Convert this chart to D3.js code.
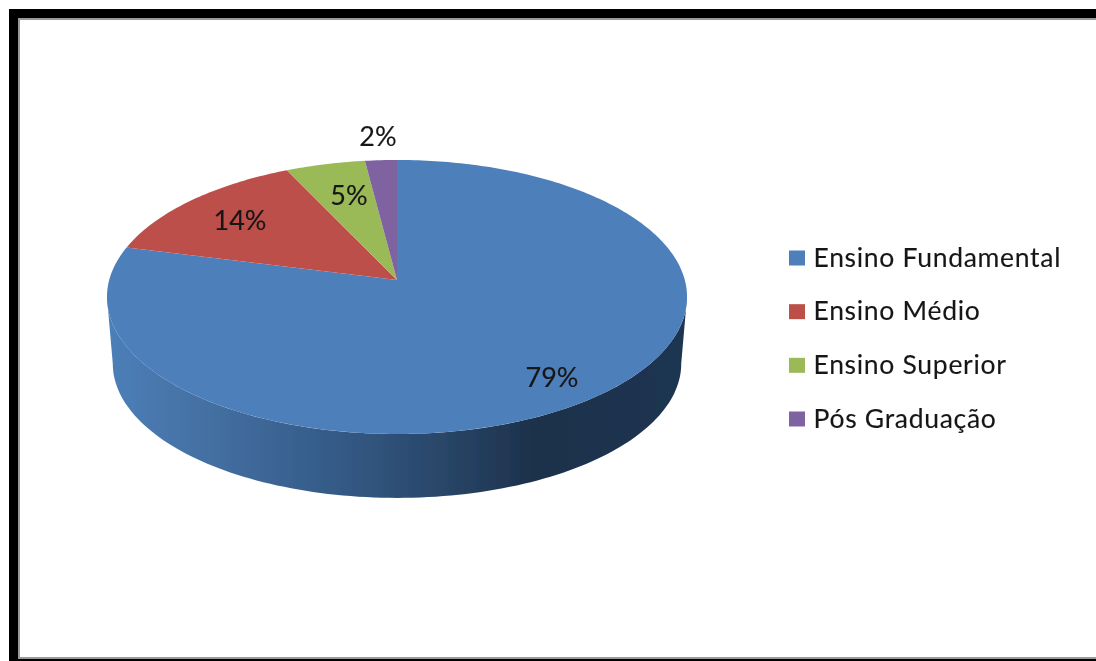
<!DOCTYPE html>
<html><head><meta charset="utf-8">
<style>html,body{margin:0;padding:0;background:#fff;overflow:hidden}svg{display:block}text{font-family:Lato,"Open Sans",sans-serif;fill:#161616;stroke:#161616;stroke-width:0.12}</style>
<script src="https://cdn.jsdelivr.net/npm/d3@7/dist/d3.min.js"></script>
</head><body><svg id="c" width="1096" height="661"></svg>
<script>
const categories = ["Ensino Fundamental","Ensino Médio","Ensino Superior","Pós Graduação"];
const values = [79,14,5,2];
const pctLabels = ["79%","14%","5%","2%"];
const colors = ["#4e7fbb","#bd4f4c","#9aba59","#7f63a1"];

(function(){
const W=1096,H=661;
const svg=d3.select("#c");
const defs=svg.append("defs");
defs.append("filter").attr("id","soft").attr("x","-5%").attr("y","-5%").attr("width","110%").attr("height","110%")
  .append("feGaussianBlur").attr("stdDeviation",0.6);
const grad=defs.append("linearGradient").attr("id","side").attr("gradientUnits","userSpaceOnUse")
  .attr("x1",107).attr("x2",687).attr("y1",0).attr("y2",0);
[[0,"#4d7fb8"],[0.2,"#426d9f"],[0.4,"#345a86"],[0.58,"#294668"],[0.74,"#1c304b"],[1,"#1f3552"]]
  .forEach(([o,c])=>grad.append("stop").attr("offset",o).attr("stop-color",c));

// frame
svg.append("rect").attr("width",W).attr("height",H).attr("fill","#fff");
svg.append("path").attr("fill","#000").attr("d",`M9 9H${W}V18H18V659H${W}V661H9Z`);
svg.append("path").attr("fill","#9a9a9a").attr("d",`M18 18H${W}V20H20V657H${W}V659H18Z`);

// perspective projection of the pie disc
const cx=397, cy=280, ry=134.9, rx=287.8, k=0.124;
const rim=(a,dy=0,s=1)=>{const u=Math.sin(a),v=Math.cos(a),w=1+k*v;
  return [cx+s*rx*u/w, cy+dy-s*ry*v/w];};
const pie=d3.pie().sort(null).value(d=>d);
const arcs=pie(values);
const line=d3.line();
const g=svg.append("g").attr("filter","url(#soft)");

// side wall: front half of the rim, between its two horizontal extremes
const depth=67, bs=0.98;
const aL=Math.PI/2+k, aR=3*Math.PI/2-k;
const samples=d3.range(0,121).map(i=>aL+(aR-aL)*i/120);
const topEdge=samples.map(a=>rim(a));
const botEdge=samples.map(a=>rim(a,depth,bs)).reverse();
g.append("path").attr("d",line(topEdge.concat(botEdge))+"Z").attr("fill","url(#side)");

// top faces
g.selectAll("path.slice").data(arcs).join("path").attr("class","slice")
  .attr("fill",(d,i)=>colors[i])
  .attr("d",d=>{
    const n=Math.max(4,Math.ceil((d.endAngle-d.startAngle)*60));
    const pts=d3.range(0,n+1).map(i=>rim(d.startAngle+(d.endAngle-d.startAngle)*i/n));
    return line([[cx,cy],...pts])+"Z";
  });

// percent labels
const labelXY=[[552,376.5],[240,219.5],[349,194.5],[378,135]];
g.selectAll("text.pct").data(pctLabels).join("text").attr("class","pct")
  .attr("x",(d,i)=>labelXY[i][0]).attr("y",(d,i)=>labelXY[i][1])
  .attr("text-anchor","middle").attr("dominant-baseline","central")
  .attr("font-size",27).text(d=>d);

// legend
const ly=d3.scalePoint().domain(categories).range([258,419]);
const lg=g.selectAll("g.leg").data(categories).join("g").attr("class","leg")
  .attr("transform",d=>`translate(0,${ly(d)})`);
lg.append("rect").attr("x",789).attr("y",-7.5).attr("width",16).attr("height",15).attr("fill",(d,i)=>colors[i]);
lg.append("text").attr("x",813.5).attr("y",-1.5).attr("dominant-baseline","central")
  .attr("font-size",26.5).attr("letter-spacing",0.7).text(d=>d);
})();
</script></body></html>
